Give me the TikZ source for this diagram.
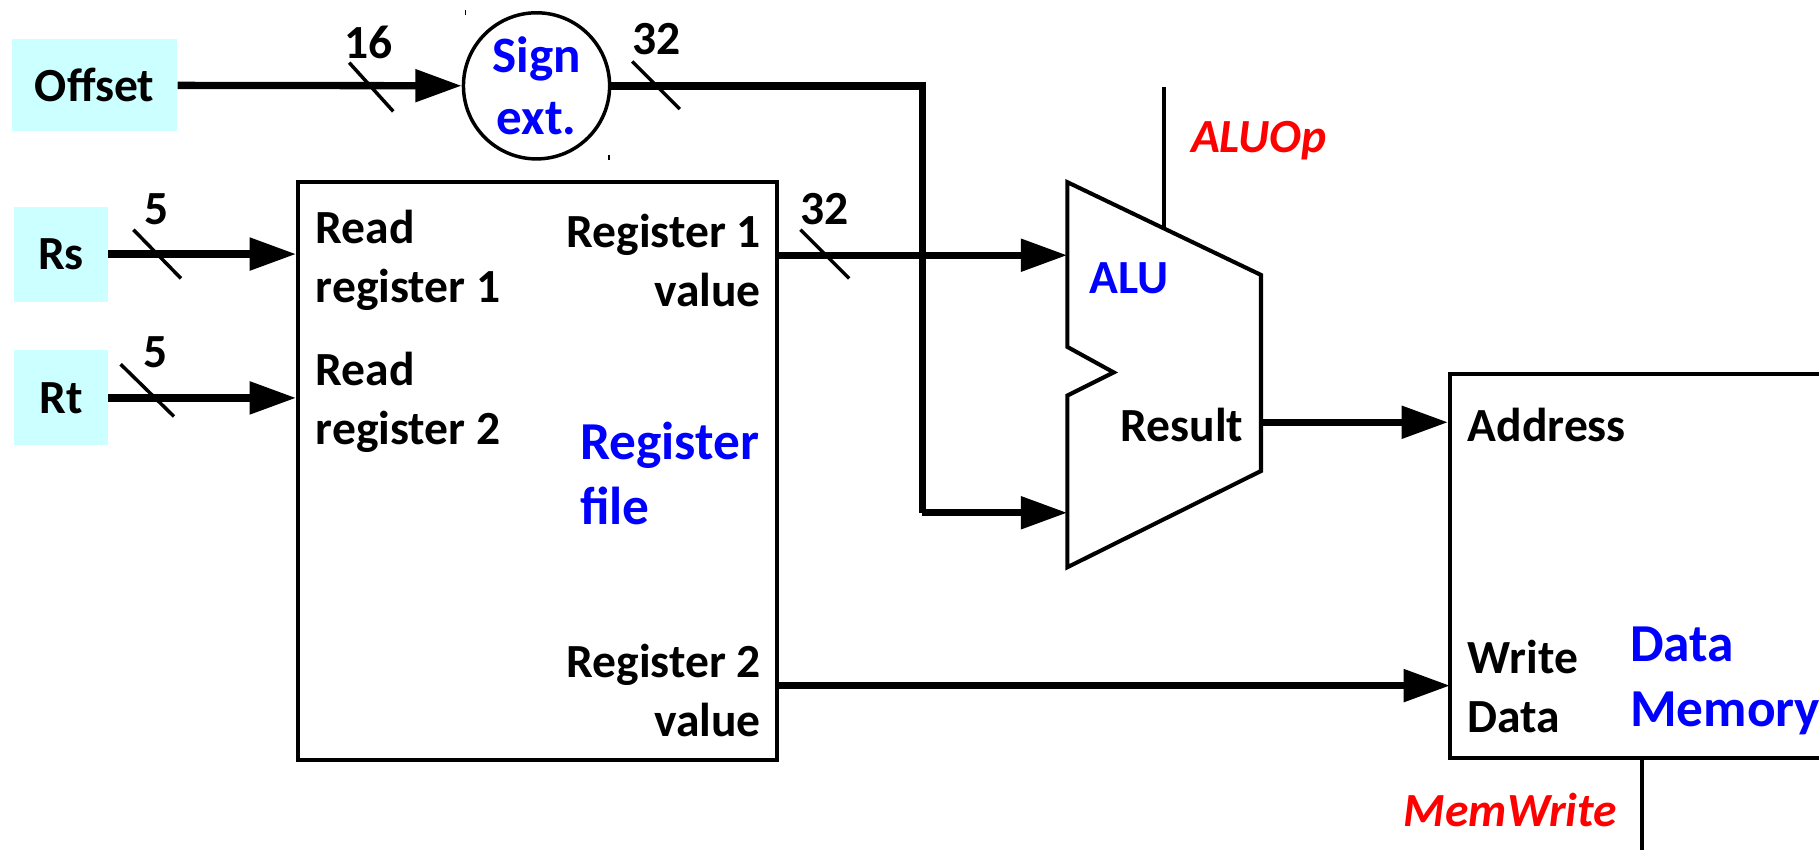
\documentclass[tikz,border=0pt]{standalone}
\usepackage{fontspec}
\setmainfont{Carlito}
\usetikzlibrary{arrows.meta}
\definecolor{inboxfill}{RGB}{204,255,255}
\definecolor{tblue}{RGB}{0,0,255}
\definecolor{tred}{RGB}{255,0,0}
\begin{document}
\begin{tikzpicture}[x=1pt,y=-1pt,
  txt/.style={font=\fontsize{41}{51}\selectfont\bfseries, inner sep=0pt},
  dtitle/.style={font=\fontsize{46}{56}\selectfont\bfseries, text=tblue, inner sep=0pt},
  ctrl/.style={font=\fontsize{41}{51}\selectfont\bfseries\itshape, text=tred, inner sep=0pt},
  inbox/.style={txt, fill=inboxfill, minimum width=143pt, minimum height=79pt},
  smallbox/.style={txt, fill=inboxfill, minimum width=81pt, minimum height=82pt},
  blockbox/.style={draw, line width=3.5pt, inner sep=0pt},
  sigwire/.style={line width=6.3pt, -{Triangle[length=40pt,width=27pt]}},
  buswire/.style={line width=6.3pt},
  busmark/.style={line width=3pt},
  ctlwire/.style={line width=3.5pt},
]
\useasboundingbox (0,0) rectangle (1568,732);
\clip (0,0) rectangle (1568,732);

% ---- inputs ----
\node[inbox] (offset) at (81.5,73.5) {Offset};
\node[smallbox] (rs) at (52.5,219) {Rs};
\node[smallbox] (rt) at (52.5,343) {Rt};

% ---- sign extension unit ----
\node[circle, draw, line width=3pt, minimum size=126pt, inner sep=0pt, align=center,
      font=\fontsize{44}{54}\selectfont\bfseries, text=tblue] (sign) at (462.5,74) {Sign\\ext.};
\draw[line width=1pt] (401,9) -- (401,13);
\draw[line width=1pt] (525,134) -- (525,138);

% ---- register file ----
\node[blockbox, minimum width=413pt, minimum height=498pt] (rf) at (463.5,406) {};
\node[txt, anchor=west, align=left] (rr1) at (272,224.5) {Read\\register 1};
\node[txt, anchor=west, align=left] (rr2) at (272,346.5) {Read\\register 2};
\node[txt, anchor=east, align=right] (rv1) at (656,224.5) {Register 1\\value};
\node[txt, anchor=east, align=right] (rv2) at (656,595) {Register 2\\value};
\node[dtitle, anchor=west, align=left] (rftitle) at (500,408) {Register\\file};

% ---- ALU ----
\coordinate (aluA) at (920,220);
\coordinate (aluB) at (920,442);
\coordinate (aluOut) at (1087,364);
\coordinate (aluCtl) at (1003,197);
\coordinate (aluOpTop) at (1003,75);
\draw[line width=3.5pt, line join=miter]
  (920,157) -- (1087,237) -- (1087,406) -- (920,489) -- (920,341)
  -- (960,321) -- (920,299) -- cycle;
\node[txt, text=tblue, anchor=west] (alulbl) at (939,240) {ALU};
\node[txt, anchor=east] (reslbl) at (1072,366) {Result};
\draw[ctlwire] (aluOpTop) -- (aluCtl);
\node[ctrl] (aluop) at (1085,121) {ALUOp};

% ---- data memory ----
\node[blockbox, minimum width=450pt, minimum height=331pt] (dm) at (1475,487.5) {};
\node[txt, anchor=west] (addr) at (1265,366) {Address};
\node[txt, anchor=west, align=left] (wdata) at (1265,592) {Write\\Data};
\node[dtitle, anchor=west, align=left] (dmtitle) at (1405,587) {Data\\Memory};
\coordinate (wdPort) at (1250,591);
\coordinate (mwEnd) at (1415,745);
\draw[ctlwire] (dm.south -| mwEnd) -- (mwEnd);
\node[ctrl] (memwrite) at (1302,698) {MemWrite};

% ---- connections ----
\draw[sigwire] (offset) -- (sign);
\coordinate (jog) at (795,442);
\draw[buswire, line join=miter] (sign.east) -| (jog);
\draw[sigwire] (jog) -- (aluB);
\draw[sigwire] (rs.east) -- (rs.east -| rf.west);
\draw[sigwire] (rt.east) -- (rt.east -| rf.west);
\draw[sigwire] (aluA -| rf.east) -- (aluA);
\draw[sigwire] (wdPort -| rf.east) -- (wdPort);
\draw[sigwire] (aluOut) -- (aluOut -| dm.west);

% ---- bus width marks ----
\draw[busmark] (301,54) -- (339,96);
\node[txt] (w16) at (318,37) {16};
\draw[busmark] (545,53) -- (586,94);
\node[txt] (w32a) at (566,34) {32};
\draw[busmark] (115,198) -- (156,240);
\node[txt] (w5a) at (135,180) {5};
\draw[busmark] (104,314) -- (150,359);
\node[txt] (w5b) at (134,304) {5};
\draw[busmark] (690,198) -- (732,240);
\node[txt] (w32b) at (711,180) {32};
\end{tikzpicture}
\end{document}
